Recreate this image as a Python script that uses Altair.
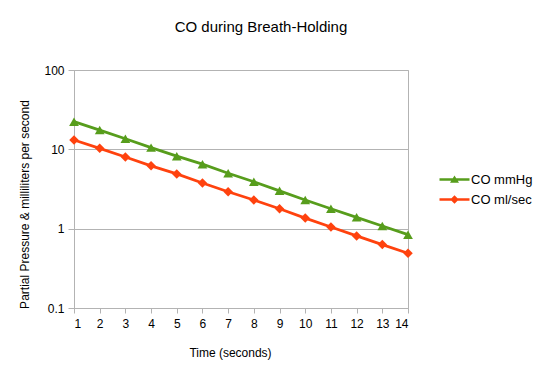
import altair as alt
import pandas as pd

time_s = list(range(1, 15))
co_mmhg = [22.3, 17.5, 13.6, 10.5, 8.2, 6.5, 5.0, 3.9, 3.0, 2.3, 1.78, 1.39, 1.08, 0.84]
co_mlsec = [13.1, 10.3, 8.0, 6.2, 4.9, 3.76, 2.92, 2.30, 1.78, 1.36, 1.05, 0.81, 0.63, 0.49]
series_names = ["CO mmHg", "CO ml/sec"]
series_colors = ["#579d1c", "#ff420e"]
y_ticks = [0.1, 1, 10, 100]

# legend symbols: a line segment with the marker on it
legend_paths = [
    "M-5,-0.24H1V0.24H-5Z M-2,-0.8L-1.1,0.65L-2.9,0.65Z",
    "M-5,-0.24H1V0.24H-5Z M-2,-0.85L-1.15,0L-2,0.85L-2.85,0Z",
]

df = pd.DataFrame({
    "time": time_s * 2,
    "value": co_mmhg + co_mlsec,
    "series": [series_names[0]] * len(time_s) + [series_names[1]] * len(time_s),
})

FONT = "Liberation Sans"

x = alt.X("time:Q",
          scale=alt.Scale(domain=[1, 14], nice=False, zero=False),
          axis=alt.Axis(values=time_s, title="Time (seconds)", grid=False,
                        tickSize=5, labelPadding=5, titleX=156, titleY=44,
                        titleBaseline="middle"))
y = alt.Y("value:Q",
          scale=alt.Scale(type="log", domain=[0.1, 100], nice=False),
          axis=alt.Axis(values=y_ticks, format="~g",
                        title="Partial Pressure & milliliters per second",
                        grid=True, tickSize=6, labelPadding=4,
                        titleX=-50, titleY=134, titleBaseline="middle"))


def col(legend=None):
    return alt.Color("series:N", scale=alt.Scale(domain=series_names, range=series_colors),
                     legend=legend)


base = alt.Chart(df)

line = base.mark_line(strokeWidth=2.8).encode(x=x, y=y, color=col())

tri = base.transform_filter(alt.datum.series == series_names[0]).mark_point(
    shape="triangle-up", filled=True, size=95, opacity=1).encode(x=x, y=y, color=col())

dia = base.transform_filter(alt.datum.series == series_names[1]).mark_point(
    shape="diamond", filled=True, size=90, opacity=1).encode(x=x, y=y, color=col())

leg_def = alt.Legend(title=None, orient="none", legendX=384, legendY=103,
                     symbolSize=100, labelFontSize=13, labelFont=FONT,
                     labelColor="black", labelOffset=0, rowPadding=6,
                     symbolStrokeWidth=0)

leg = base.transform_filter("false").mark_point(filled=True, opacity=1).encode(
    x=x, y=y,
    color=col(leg_def),
    shape=alt.Shape("series:N", scale=alt.Scale(domain=series_names, range=legend_paths),
                    legend=leg_def),
)

chart = alt.layer(line, tri, dia, leg).resolve_scale(
    color="independent", shape="independent"
).properties(
    width=334, height=238,
    autosize=alt.AutoSizeParams(type="none"),
    padding={"left": 66, "top": 62, "right": 125, "bottom": 60},
    title=alt.Title("CO during Breath-Holding", fontSize=15, font=FONT,
                    fontWeight="normal", color="black", anchor="middle",
                    frame="group", dx=20, offset=17, baseline="alphabetic"),
).configure_view(
    stroke="#b3b3b3", strokeWidth=1
).configure_axis(
    domainColor="#b3b3b3", tickColor="#b3b3b3", gridColor="#b3b3b3",
    labelFont=FONT, labelFontSize=12, labelColor="black",
    titleFont=FONT, titleFontSize=12, titleFontWeight="normal", titleColor="black",
)

chart.save("out.html", embed_options={"renderer": "svg", "actions": False})
